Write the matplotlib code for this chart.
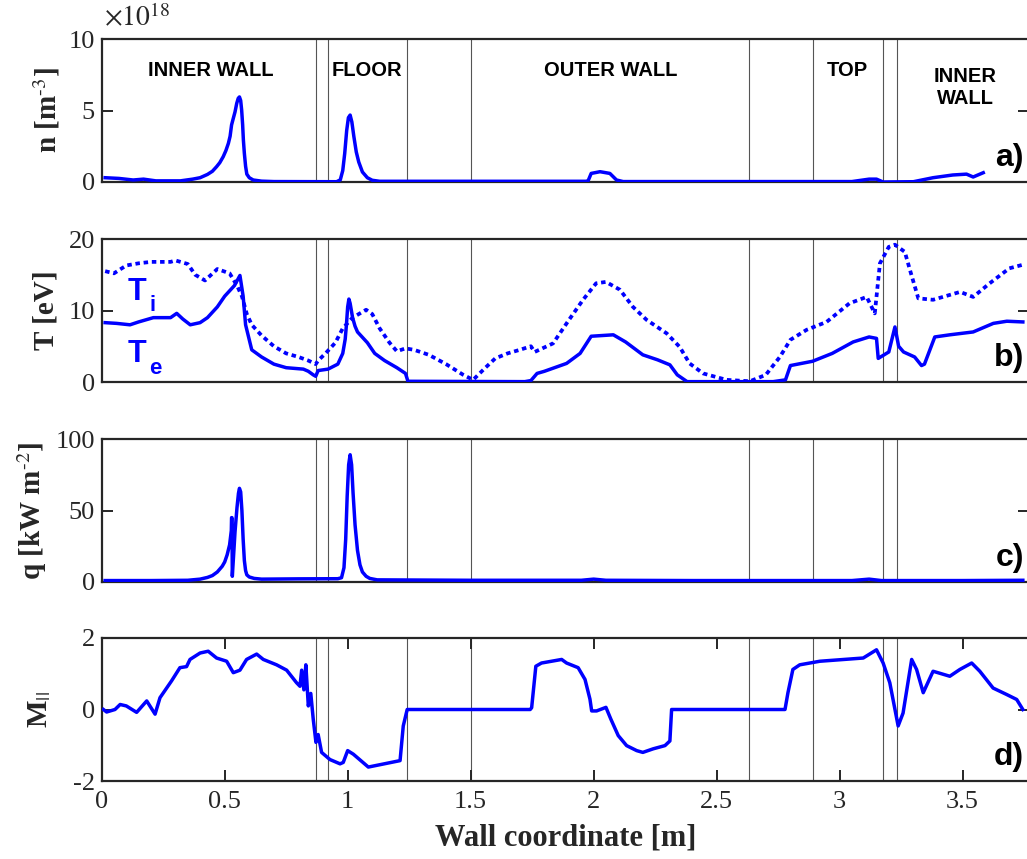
import matplotlib
matplotlib.use("Agg")
import matplotlib.pyplot as plt
import matplotlib.transforms as mtransforms

plt.rcParams["font.family"] = ["Liberation Serif", "DejaVu Serif"]
plt.rcParams["mathtext.fontset"] = "stix"
plt.rcParams["axes.unicode_minus"] = False

# ---- data ----
wall_lines = [0.87, 0.92, 1.24, 1.50, 2.63, 2.89, 3.175, 3.235]
region_names = ["INNER WALL", "FLOOR", "OUTER WALL", "TOP", "INNER\nWALL"]
region_x = [0.445, 1.08, 2.07, 3.03, 3.51]
region_y = [7.8, 7.8, 7.8, 7.8, 6.6]

# a) density, units of 1e18 m^-3
n_x = [0.014, 0.07, 0.128, 0.17, 0.22, 0.32, 0.37, 0.40, 0.43, 0.45, 0.467, 0.48,
       0.494, 0.505, 0.515, 0.522, 0.528, 0.535, 0.542, 0.549, 0.555, 0.56, 0.565,
       0.569, 0.573, 0.576, 0.58, 0.585, 0.59, 0.60, 0.616, 0.65, 0.70, 0.955, 0.97,
       0.98, 0.988, 0.996, 1.003, 1.01, 1.017, 1.025, 1.035, 1.045, 1.06, 1.08, 1.10,
       1.13, 1.97, 1.978, 1.99, 2.026, 2.066, 2.093, 2.12, 3.05, 3.12, 3.15, 3.177,
       3.30, 3.38, 3.46, 3.516, 3.543, 3.584]
n_y = [0.30, 0.25, 0.14, 0.20, 0.08, 0.08, 0.20, 0.30, 0.53, 0.75, 1.07, 1.35,
       1.77, 2.20, 2.70, 3.20, 3.99, 4.45, 4.90, 5.50, 5.85, 5.95, 5.70,
       5.03, 4.00, 2.94, 2.00, 1.10, 0.55, 0.30, 0.14, 0.06, 0.03, 0.02, 0.15,
       0.80, 2.00, 3.60, 4.50, 4.68, 4.20, 3.20, 2.10, 1.40, 0.70, 0.30, 0.12,
       0.05, 0.05, 0.10, 0.60, 0.72, 0.60, 0.14, 0.03, 0.03, 0.20, 0.20, 0.0,
       0.02, 0.30, 0.49, 0.55, 0.35, 0.65]

# b) electron temperature [eV]
te_x = [0.014, 0.06, 0.115, 0.15, 0.21, 0.28, 0.305, 0.33, 0.36, 0.40, 0.43, 0.47,
        0.50, 0.54, 0.562, 0.575, 0.585, 0.61, 0.65, 0.70, 0.75, 0.82, 0.84, 0.86,
        0.87, 0.88, 0.92, 0.96, 0.98, 0.99, 0.995, 1.0, 1.005, 1.01, 1.02, 1.03,
        1.04, 1.08, 1.11, 1.15, 1.20, 1.235, 1.245, 1.72, 1.745, 1.77, 1.80, 1.89,
        1.945, 1.99, 2.08, 2.13, 2.20, 2.26, 2.31, 2.34, 2.38, 2.73, 2.78, 2.80,
        2.89, 2.97, 3.055, 3.12, 3.15, 3.157, 3.20, 3.225, 3.24, 3.26, 3.305, 3.333,
        3.345, 3.387, 3.448, 3.543, 3.625, 3.68, 3.745]
te_y = [8.3, 8.2, 8.0, 8.4, 9.0, 9.0, 9.6, 8.8, 8.0, 8.3, 9.0, 10.5,
        12.0, 13.5, 14.9, 12.0, 8.0, 4.5, 3.5, 2.5, 2.0, 1.8, 1.5, 1.0,
        0.8, 1.6, 1.8, 2.5, 4.0, 6.0, 8.0, 10.5, 11.6, 11.0, 9.0, 7.8,
        7.0, 5.5, 4.0, 3.0, 2.0, 1.2, 0.1, 0.05, 0.2, 1.2, 1.5, 2.6,
        4.0, 6.4, 6.6, 5.6, 3.8, 3.1, 2.4, 1.0, 0.05, 0.05, 0.3, 2.3,
        2.9, 4.0, 5.6, 6.3, 6.1, 3.3, 4.2, 7.7, 5.0, 4.2, 3.5, 2.3,
        2.5, 6.3, 6.6, 7.0, 8.2, 8.5, 8.4]

# b) ion temperature [eV]
ti_x = [0.014, 0.05, 0.10, 0.15, 0.20, 0.28, 0.30, 0.35, 0.38, 0.42, 0.47, 0.52,
        0.55, 0.57, 0.59, 0.61, 0.65, 0.70, 0.75, 0.80, 0.84, 0.87, 0.88, 0.91,
        0.95, 0.98, 1.02, 1.075, 1.10, 1.13, 1.17, 1.20, 1.235, 1.27, 1.33, 1.40,
        1.47, 1.51, 1.56, 1.60, 1.65, 1.70, 1.745, 1.76, 1.835, 1.90, 1.957, 2.01,
        2.05, 2.107, 2.16, 2.215, 2.297, 2.35, 2.39, 2.445, 2.54, 2.635, 2.70,
        2.757, 2.80, 2.866, 2.947, 3.04, 3.11, 3.143, 3.164, 3.20, 3.225, 3.265,
        3.29, 3.32, 3.38, 3.49, 3.543, 3.61, 3.69, 3.745]
ti_y = [15.5, 15.2, 16.3, 16.6, 16.8, 16.8, 17.0, 16.5, 15.0, 14.2, 15.8, 15.2,
        13.5, 12.0, 9.5, 8.0, 6.5, 5.0, 4.0, 3.5, 3.0, 2.5, 3.0, 4.0,
        5.5, 7.5, 9.0, 10.1, 9.5, 7.5, 5.5, 4.3, 4.7, 4.5, 3.8, 2.5,
        1.0, 0.3, 2.0, 3.3, 4.0, 4.5, 5.0, 4.2, 5.4, 8.7, 11.5, 13.8,
        14.0, 12.9, 10.5, 8.7, 6.8, 4.9, 2.6, 1.2, 0.3, 0.1, 1.0,
        3.5, 5.9, 7.3, 8.4, 11.0, 11.9, 9.6, 16.6, 18.9, 19.2, 18.2,
        15.2, 11.7, 11.5, 12.6, 11.9, 13.8, 15.9, 16.4]

# c) parallel heat flux [kW m^-2]
q_x = [0.014, 0.20, 0.35, 0.40, 0.43, 0.45, 0.47, 0.49, 0.50, 0.51, 0.52, 0.527,
       0.528, 0.5295, 0.531, 0.536, 0.542, 0.55, 0.556, 0.56, 0.565, 0.57, 0.575,
       0.58, 0.585, 0.59, 0.60, 0.62, 0.65, 0.80, 0.96, 0.975, 0.985, 0.992, 0.998,
       1.004, 1.01, 1.016, 1.022, 1.03, 1.04, 1.05, 1.06, 1.075, 1.09, 1.12, 1.50,
       1.95, 2.0, 2.05, 2.4, 3.05, 3.12, 3.17, 3.5, 3.745]
q_y = [1.0, 1.0, 1.2, 2.0, 3.2, 4.5, 7.0, 11.0, 14.0, 19.0, 26.0, 36.0,
       45.0, 45.0, 4.0, 18.0, 35.0, 52.0, 62.0, 65.5, 63.0, 50.0, 30.0,
       15.0, 8.0, 5.0, 3.5, 2.5, 2.0, 2.2, 2.3, 3.0, 10.0, 30.0, 60.0,
       82.0, 89.0, 82.0, 62.0, 40.0, 22.0, 12.0, 7.0, 4.0, 2.5, 1.5, 1.2,
       1.2, 2.0, 1.2, 1.0, 1.0, 2.0, 1.0, 1.0, 1.2]

# d) parallel Mach number
m_x = [0.007, 0.02, 0.054, 0.075, 0.10, 0.142, 0.183, 0.217, 0.237, 0.284, 0.318,
       0.345, 0.359, 0.40, 0.433, 0.467, 0.508, 0.535, 0.562, 0.589, 0.63, 0.657,
       0.711, 0.752, 0.792, 0.806, 0.813, 0.822, 0.83, 0.84, 0.85, 0.86, 0.871,
       0.88, 0.894, 0.928, 0.969, 0.982, 1.0, 1.023, 1.084, 1.213, 1.226, 1.242,
       1.742, 1.748, 1.765, 1.788, 1.87, 1.89, 1.937, 1.965, 1.985, 1.992, 2.012,
       2.05, 2.07, 2.10, 2.134, 2.175, 2.20, 2.242, 2.29, 2.31, 2.317, 2.778,
       2.79, 2.81, 2.838, 2.92, 3.096, 3.15, 3.177, 3.204, 3.238, 3.258, 3.293,
       3.313, 3.34, 3.38, 3.448, 3.489, 3.537, 3.57, 3.624, 3.679, 3.72, 3.745]
m_y = [0.0, -0.07, 0.0, 0.14, 0.10, -0.08, 0.24, -0.13, 0.33, 0.80, 1.17,
       1.20, 1.40, 1.58, 1.63, 1.44, 1.35, 1.03, 1.10, 1.40, 1.55, 1.40,
       1.25, 1.10, 0.75, 0.65, 1.10, 0.55, 1.25, 0.10, 0.45, -0.27, -0.92,
       -0.70, -1.20, -1.40, -1.52, -1.48, -1.15, -1.25, -1.61, -1.43, -0.46, 0.0,
       0.0, 0.05, 1.21, 1.30, 1.40, 1.30, 1.17, 0.84, 0.29, -0.04, -0.04,
       0.06, -0.27, -0.73, -1.01, -1.15, -1.20, -1.10, -1.01, -0.88, 0.0, 0.0,
       0.47, 1.12, 1.25, 1.35, 1.44, 1.67, 1.30, 0.75, -0.46, -0.10, 1.40,
       1.12, 0.47, 1.07, 0.93, 1.12, 1.30, 1.07, 0.60, 0.42, 0.28, 0.0]

# ---- figure ----
blue = (0, 0, 1)
dark = "#262626"
W, H = 1027, 859
fig = plt.figure(figsize=(W / 100, H / 100), dpi=100)

left = 101.7 / W
right_px = 1029
x_max = 3.77
panel_tops = [39, 239, 439, 638]
panel_h = 143


def make_axes(top_px):
    rect = [left, (H - top_px - panel_h) / H, (right_px - 101.7) / W, panel_h / H]
    ax = fig.add_axes(rect)
    ax.set_xlim(0, x_max)
    for sp in ax.spines.values():
        sp.set_color(dark)
        sp.set_linewidth(1.6)
    ax.tick_params(direction="in", length=8, width=1.4, colors=dark,
                   labelsize=19, right=True, top=True, pad=5)
    for xv in wall_lines:
        ax.axvline(xv, color="#555555", lw=0.8, zorder=1)
    return ax


axes = [make_axes(t) for t in panel_tops]
for ax in axes[:3]:
    ax.set_xticks([])

# a)
ax = axes[0]
ax.plot(n_x, n_y, color=blue, lw=2.5, zorder=3)
ax.set_ylim(0, 10)
ax.set_yticks([0, 5, 10])
for name, xv, yv in zip(region_names, region_x, region_y):
    ax.text(xv, yv, name, ha="center", va="center", fontsize=14.5,
            fontweight="bold", family="Liberation Sans", linespacing=1.15)
ax.text(104 / W, 1 - 4 / H, r"$\times10^{18}$", transform=fig.transFigure,
        ha="left", va="top", fontsize=20, color=dark)

# b)
ax = axes[1]
ax.plot(te_x, te_y, color=blue, lw=2.5, zorder=3)
ax.plot(ti_x, ti_y, color=blue, lw=2.7, ls=(0, (1.2, 1.0)), zorder=3)
ax.set_ylim(0, 20)
ax.set_yticks([0, 10, 20])
for lab, sub, yv in [("T", "i", 12.6), ("T", "e", 3.9)]:
    ax.text(0.105, yv, lab, color=blue, fontsize=22, fontweight="bold",
            family="Liberation Sans", ha="left", va="center")
    tr = mtransforms.offset_copy(ax.transData, fig=fig, x=15.5, y=-10, units="points")
    ax.text(0.105, yv, sub, color=blue, fontsize=16, fontweight="bold",
            family="Liberation Sans", ha="left", va="center", transform=tr)

# c)
ax = axes[2]
ax.plot(q_x, q_y, color=blue, lw=2.5, zorder=3)
ax.set_ylim(0, 100)
ax.set_yticks([0, 50, 100])

# d)
ax = axes[3]
ax.plot(m_x, m_y, color=blue, lw=2.5, zorder=3)
ax.set_ylim(-2, 2)
ax.set_yticks([-2, 0, 2])
ax.set_xticks([0, 0.5, 1, 1.5, 2, 2.5, 3, 3.5])
ax.set_xticklabels(["0", "0.5", "1", "1.5", "2", "2.5", "3", "3.5"])
ax.tick_params(axis="x", labeltop=False, pad=7)
ax.set_xlabel("Wall coordinate [m]", fontsize=22, fontweight="bold",
              color=dark, labelpad=8)

# panel tags
for ax, tag in zip(axes, ["a)", "b)", "c)", "d)"]):
    y0 = ax.get_position().y0
    fig.text(1024 / W, y0 + 24 / H, tag, ha="right", va="center", fontsize=23,
             fontweight="bold", family="Liberation Sans")

# y labels
ylabels = [r"n [m$^{\text{-3}}$]", "T [eV]", r"q [kW m$^{\text{-2}}$]",
           r"M$_{||}$"]
ylabel_x = [47, 46, 32, 40]
for ax, lab, xp in zip(axes, ylabels, ylabel_x):
    pos = ax.get_position()
    fig.text(xp / W, pos.y0 + pos.height / 2, lab, rotation=90, ha="center",
             va="center", fontsize=21, fontweight="bold", color=dark)

fig.savefig("out.png", dpi=100)
plt.close(fig)
